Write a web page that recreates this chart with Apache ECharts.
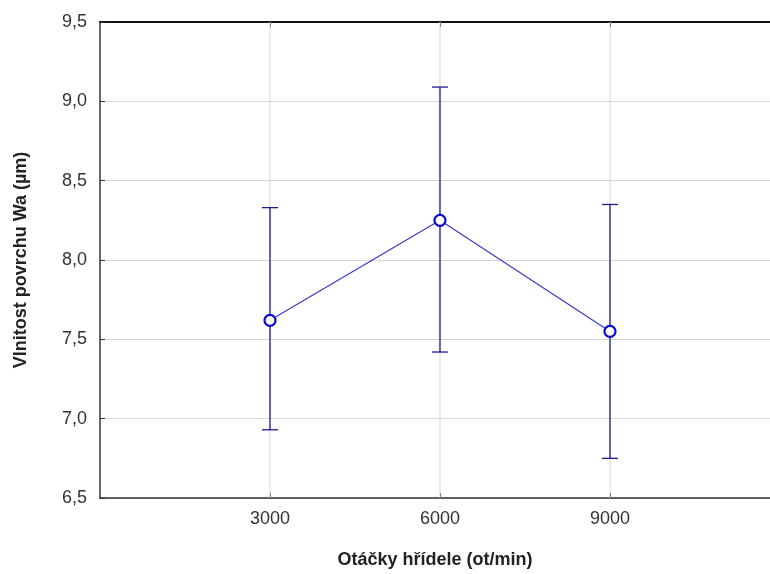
<!DOCTYPE html>
<html>
<head>
<meta charset="utf-8">
<script src="https://cdn.jsdelivr.net/npm/echarts@6/dist/echarts.min.js"></script>
<style>
  html, body { margin: 0; padding: 0; background: #fff; }
</style>
</head>
<body>
<div id="chart" style="width: 770px; height: 574px"></div>
<script>
var speeds = [3000, 6000, 9000];
var means = [7.62, 8.25, 7.55];
var lower = [6.93, 7.42, 6.75];
var upper = [8.33, 9.09, 8.35];
var xTicks = [3000, 6000, 9000];
var xMax = 11824; // osa je v originále oříznutá pravým okrajem

var myChart = echarts.init(document.getElementById("chart"));

var meanData = speeds.map(function (s, i) { return [s, means[i]]; });
var barData = speeds.map(function (s, i) { return [s, lower[i], upper[i]]; });

var font = "Liberation Sans, Arial, sans-serif";

var option = {
  animation: false,
  backgroundColor: "#fff",
  grid: { left: 100, top: 22, bottom: 72, right: 0 },
  xAxis: [
    {
      type: "value",
      min: 0,
      max: xMax,
      name: "Otáčky hřídele (ot/min)",
      nameLocation: "middle",
      nameGap: 53,
      nameTextStyle: { fontFamily: font, fontSize: 18, fontWeight: "bold", color: "#222" },
      axisLine: { show: true, lineStyle: { color: "#333", width: 1.5 } },
      axisTick: { show: true, inside: true, length: 5, customValues: xTicks, lineStyle: { color: "#333" } },
      axisLabel: {
        customValues: xTicks, fontFamily: font, fontSize: 18, color: "#333", margin: 12,
        formatter: function (v) { return String(v); }
      },
      splitLine: { show: false }
    },
    {
      type: "value",
      position: "top",
      min: 0,
      max: xMax,
      axisLine: { show: true, lineStyle: { color: "#111", width: 2 } },
      axisTick: { show: true, inside: true, length: 5, customValues: xTicks, lineStyle: { color: "#333" } },
      axisLabel: { show: false },
      splitLine: { show: false }
    }
  ],
  yAxis: {
    type: "value",
    min: 6.5,
    max: 9.5,
    interval: 0.5,
    name: "Vlnitost povrchu Wa (µm)",
    nameLocation: "middle",
    nameGap: 70,
    nameTextStyle: { fontFamily: font, fontSize: 18, fontWeight: "bold", color: "#222" },
    axisLine: { show: true, lineStyle: { color: "#333", width: 1.5 } },
    axisTick: { show: true, inside: true, length: 5, lineStyle: { color: "#333" } },
    axisLabel: {
      fontFamily: font, fontSize: 18, color: "#333", margin: 13,
      formatter: function (v) { return v.toFixed(1).replace(".", ","); }
    },
    splitLine: { show: true, lineStyle: { color: "#d6d6d6", width: 1 } }
  },
  series: [
    {
      // svislé mřížky jen u otáček
      type: "custom",
      silent: true,
      z: 1,
      data: xTicks.map(function (t) { return [t]; }),
      renderItem: function (params, api) {
        var top = api.coord([api.value(0), 9.5]);
        var bot = api.coord([api.value(0), 6.5]);
        return {
          type: "line",
          shape: { x1: top[0], y1: top[1], x2: bot[0], y2: bot[1] },
          style: { stroke: "#d6d6d6", lineWidth: 1 }
        };
      }
    },
    {
      type: "custom",
      z: 3,
      data: barData,
      renderItem: function (params, api) {
        var x = api.value(0);
        var lo = api.coord([x, api.value(1)]);
        var hi = api.coord([x, api.value(2)]);
        var w = 8;
        var st = { stroke: "#1c1c8a", lineWidth: 1.3 };
        return {
          type: "group",
          children: [
            { type: "line", shape: { x1: lo[0], y1: lo[1], x2: hi[0], y2: hi[1] }, style: st },
            { type: "line", shape: { x1: hi[0] - w, y1: hi[1], x2: hi[0] + w, y2: hi[1] }, style: st },
            { type: "line", shape: { x1: lo[0] - w, y1: lo[1], x2: lo[0] + w, y2: lo[1] }, style: st }
          ]
        };
      }
    },
    {
      type: "line",
      z: 4,
      data: meanData,
      symbol: "circle",
      symbolSize: 11,
      lineStyle: { color: "#3b3bc8", width: 1.2 },
      itemStyle: { color: "#fff", borderColor: "#0a0ad0", borderWidth: 2.2 }
    }
  ]
};

myChart.setOption(option);
</script>
</body>
</html>
